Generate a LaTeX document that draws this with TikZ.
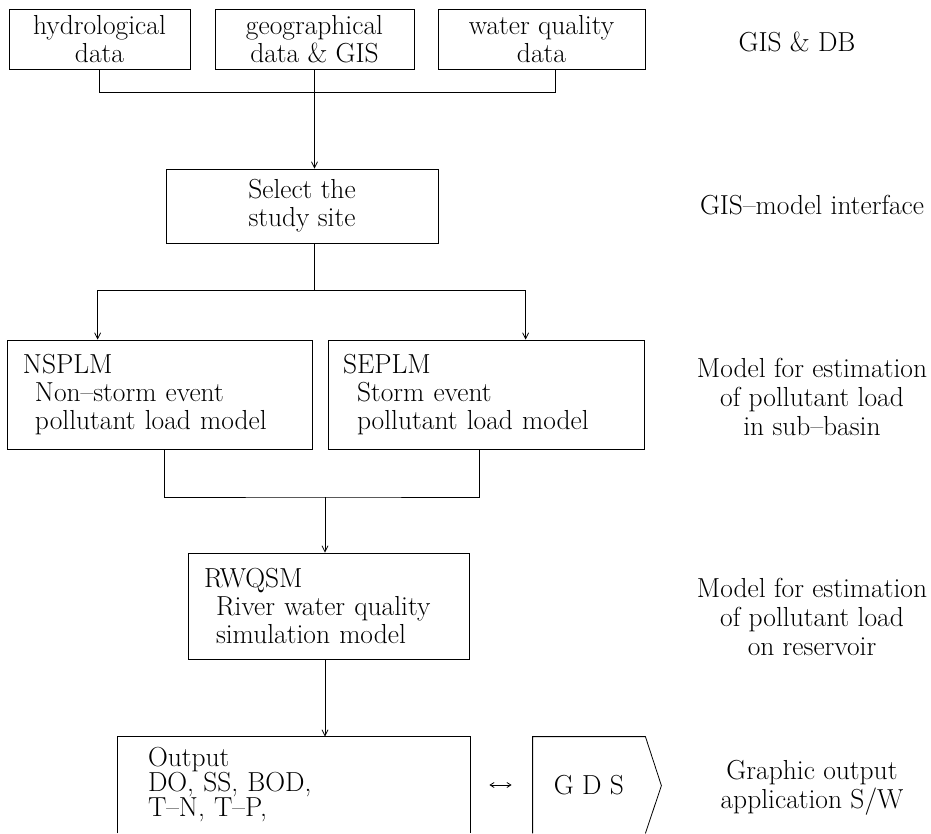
\documentclass[tikz,border=0pt]{standalone}
\usetikzlibrary{arrows.meta}
\begin{document}
\begin{tikzpicture}[x=1pt,y=-1pt, line width=0.8pt,
  every node/.style={font=\fontsize{27.5}{28}\selectfont},
  box/.style={draw, rectangle, inner sep=0pt, align=center},
  lbox/.style={draw, rectangle, inner ysep=0pt, align=left},
  arr/.style={-{Straight Barb[length=6pt,width=6pt]}},
  lab/.style={align=center, font=\fontsize{27.5}{29}\selectfont}]
\useasboundingbox (0,0) rectangle (931,833);

% top row
\node[box, minimum width=181pt, minimum height=60pt] (hyd) at (99.5,39) {hydrological\\data};
\node[box, minimum width=199pt, minimum height=60pt] (geo) at (314.5,39) {geographical\\data \& GIS};
\node[box, minimum width=207pt, minimum height=60pt] (wq) at (541.5,39) {water quality\\data};

% select
\node[box, minimum width=272pt, minimum height=74pt] (sel) at (302,206) {Select the\\study site};

% models
\node[lbox, inner xsep=16pt, text width=273pt, minimum height=109pt] (ns) at (159.5,394.5)
  {NSPLM\\\hspace*{12pt}Non--storm event\\\hspace*{12pt}pollutant load model};
\node[lbox, inner xsep=15pt, text width=286pt, minimum height=109pt] (se) at (486,394.5)
  {SEPLM\\\hspace*{14pt}Storm event\\\hspace*{14pt}pollutant load model};
\node[lbox, inner xsep=16pt, text width=249pt, minimum height=106pt] (rw) at (328.5,606)
  {RWQSM\\\hspace*{12pt}River water quality\\\hspace*{12pt}simulation model};

% output (open at bottom)
\node[inner ysep=0pt, inner xsep=30pt, text width=292pt, minimum height=96pt, align=left,
  font=\fontsize{27.5}{25}\selectfont] (out) at (294,785) {Output\\DO, SS, BOD,\\T--N, T--P,};
\draw (out.south west) |- (out.north east) -- (out.south east);

\node[inner sep=0pt, minimum width=112pt, minimum height=96pt] (gds) at (589,785) {G D S};
\draw (gds.south west) |- (gds.north east) -- ++(16,49) -- (gds.south east);

% right labels
\node[lab] (l1) at (797,42) {GIS \& DB};
\node[lab] (l2) at (812,205) {GIS--model interface};
\node[lab] (l3) at (812,397) {Model for estimation\\of pollutant load\\in sub--basin};
\node[lab] (l4) at (812,617) {Model for estimation\\of pollutant load\\on reservoir};
\node[lab] (l5) at (812,788) {Graphic output\\application S/W};

% connectors
\draw (hyd.south) -- ++(0,23) -| ([xshift=13.5pt]wq.south);
\draw[arr] (geo.south) -- (geo.south |- sel.north);
\coordinate (split) at ([yshift=-47pt]geo.south |- sel.south);
\draw (geo.south |- sel.south) -- (split);
\draw[arr] (split) -| ([xshift=91pt]ns.north west);
\draw[arr] (split) -| ([xshift=198pt]se.north west);
\coordinate (join) at (325,497);
\draw ([xshift=158pt]ns.south west) |- (join) -| ([xshift=152pt]se.south west);
\draw[arr] (join) -- (join |- rw.north);
\draw[arr] (join |- rw.south) -- (join |- out.north);
\draw[{Straight Barb[length=4pt,width=5pt]}-{Straight Barb[length=4pt,width=5pt]}]
  ([xshift=19pt]out.east) -- ([xshift=-21pt]gds.west);
\end{tikzpicture}
\end{document}
